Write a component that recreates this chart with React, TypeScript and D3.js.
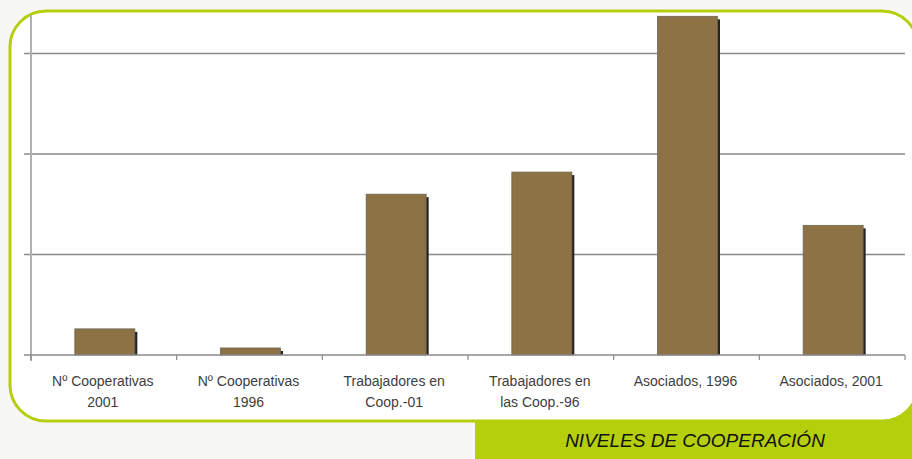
import * as d3 from "d3";
import React, { useEffect, useRef } from "react";

// categories (two-line labels) and bar values (relative units, one unit per gridline)
const categories = [
  ["Nº Cooperativas", "2001"],
  ["Nº Cooperativas", "1996"],
  ["Trabajadores en", "Coop.-01"],
  ["Trabajadores en", "las Coop.-96"],
  ["Asociados, 1996"],
  ["Asociados, 2001"],
];
const values = [0.26, 0.07, 1.6, 1.82, 3.37, 1.29];
const gridTicks = [0, 1, 2, 3];
const title = "NIVELES DE COOPERACIÓN";

const App = () => {
  const ref = useRef<SVGSVGElement | null>(null);

  useEffect(() => {
    const svg = d3.select(ref.current);
    svg.selectAll("*").remove();
    drawChart(svg);
  }, []);

  const drawChart = (svg: any) => {
    const width = 912;
    const height = 459;
    const green = "#b5cf0c";

    // background
    svg.append("rect").attr("width", width).attr("height", height).attr("fill", "#f7f7f6");

    // green banner + corner fill
    svg.append("rect").attr("x", 475).attr("y", 420).attr("width", width - 475).attr("height", height - 420).attr("fill", green);
    svg.append("rect").attr("x", 860).attr("y", 390).attr("width", 60).attr("height", 40).attr("fill", green);

    // white panel with green rounded border
    svg
      .append("rect")
      .attr("x", 10)
      .attr("y", 11)
      .attr("width", 908)
      .attr("height", 410)
      .attr("rx", 36)
      .attr("fill", "#ffffff")
      .attr("stroke", green)
      .attr("stroke-width", 3);

    const x0 = 31;
    const x1 = 905;
    const baseY = 355;
    const unit = 100.5;

    const xScale = d3
      .scaleBand<number>()
      .domain(d3.range(categories.length))
      .range([x0, x1])
      .paddingInner(0)
      .paddingOuter(0);

    const yScale = d3
      .scaleLinear()
      .domain([0, 3])
      .range([baseY, baseY - 3 * unit]);

    const chart = svg.append("g");

    // gridlines
    chart
      .selectAll(".grid")
      .data(gridTicks.filter((d) => d > 0))
      .enter()
      .append("line")
      .attr("x1", x0 - 7)
      .attr("x2", x1)
      .attr("y1", (d: number) => yScale(d))
      .attr("y2", (d: number) => yScale(d))
      .attr("stroke", "#8a8a8a")
      .attr("stroke-width", 1.5);

    // y axis
    chart
      .append("line")
      .attr("x1", x0)
      .attr("x2", x0)
      .attr("y1", 15)
      .attr("y2", baseY + 6)
      .attr("stroke", "#b0b0b0")
      .attr("stroke-width", 2);

    // bars: shadow then body
    const barW = 60;
    const barX = (i: number) => xScale(i)! + xScale.bandwidth() / 2 - barW / 2 + 1;

    chart
      .selectAll(".shadow")
      .data(values)
      .enter()
      .append("rect")
      .attr("x", (_: number, i: number) => barX(i) + barW - 1)
      .attr("y", (d: number) => yScale(d) + 3)
      .attr("width", 3.5)
      .attr("height", (d: number) => baseY - yScale(d) - 3)
      .attr("fill", "#262320");

    chart
      .selectAll(".bar")
      .data(values)
      .enter()
      .append("rect")
      .attr("x", (_: number, i: number) => barX(i))
      .attr("y", (d: number) => yScale(d))
      .attr("width", barW)
      .attr("height", (d: number) => baseY - yScale(d))
      .attr("fill", "#8c7244")
      .attr("stroke", "#6f6454")
      .attr("stroke-width", 0.8);

    // x axis baseline and ticks
    chart
      .append("line")
      .attr("x1", x0 - 7)
      .attr("x2", x1)
      .attr("y1", baseY)
      .attr("y2", baseY)
      .attr("stroke", "#8a8a8a")
      .attr("stroke-width", 1.5);

    chart
      .selectAll(".xtick")
      .data(d3.range(categories.length + 1))
      .enter()
      .append("line")
      .attr("x1", (i: number) => (i < categories.length ? xScale(i)! : x1))
      .attr("x2", (i: number) => (i < categories.length ? xScale(i)! : x1))
      .attr("y1", baseY)
      .attr("y2", baseY + 5)
      .attr("stroke", "#8a8a8a")
      .attr("stroke-width", 1.2);

    // category labels
    const labels = chart
      .selectAll(".label")
      .data(categories)
      .enter()
      .append("text")
      .attr("text-anchor", "middle")
      .attr("font-family", "Liberation Sans, Arial, sans-serif")
      .attr("font-size", 14)
      .attr("fill", "#3e3e3e");

    labels
      .selectAll("tspan")
      .data((d: string[], i: number) => d.map((t) => ({ t, i })))
      .enter()
      .append("tspan")
      .attr("x", (d: any) => xScale(d.i)! + xScale.bandwidth() / 2 - 1)
      .attr("y", (_: any, j: number) => 386 + j * 21)
      .text((d: any) => d.t);

    // title in banner
    svg
      .append("text")
      .attr("x", 695)
      .attr("y", 447)
      .attr("text-anchor", "middle")
      .attr("font-family", "Liberation Sans, Arial, sans-serif")
      .attr("font-style", "italic")
      .attr("font-size", 19)
      .attr("fill", "#111")
      .text(title);
  };

  return (
    <svg
      ref={ref}
      width={912}
      height={459}
      style={{ position: "absolute", left: 0, top: 0 }}
    />
  );
};

export default App;
